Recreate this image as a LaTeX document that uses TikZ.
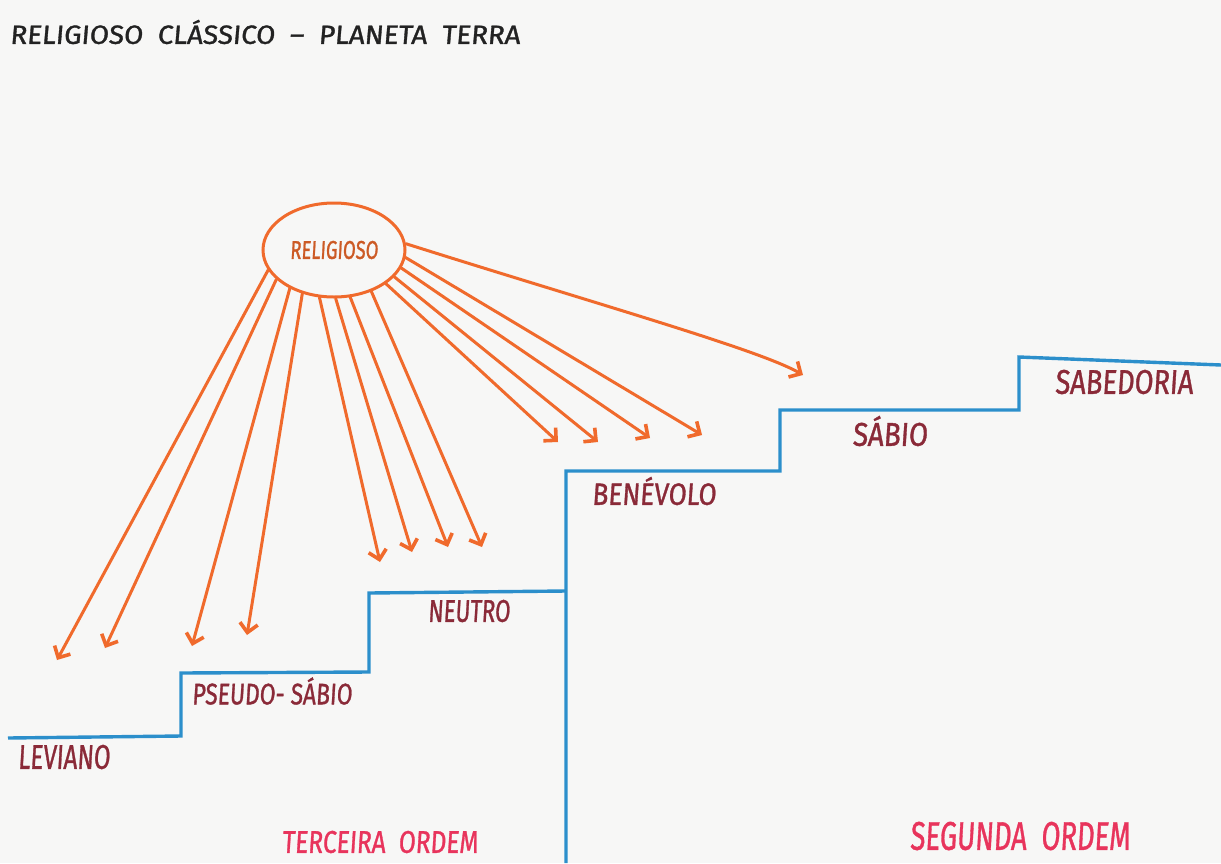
\documentclass[tikz,border=0pt]{standalone}
\usepackage{fontspec}
\usetikzlibrary{arrows.meta,shapes.geometric}
\newfontfamily\hand[FakeSlant=0.08,FakeBold=1.2]{Fira Sans}
\definecolor{paper}{HTML}{F7F7F6}
\definecolor{arrowc}{HTML}{F06A2C}
\definecolor{stairc}{HTML}{2C8FCB}
\definecolor{levelc}{HTML}{8A2A38}
\definecolor{orderc}{HTML}{E8345C}
\definecolor{titlec}{HTML}{222222}
\newcommand{\fitw}[3]{\resizebox{#1pt}{#2pt}{\hand #3}}
\tikzset{
  ray/.style={draw=arrowc, line width=3pt, line cap=round,
    -{Straight Barb[length=9pt,width=18pt,line width=3.6pt]}},
  stair/.style={draw=stairc, line width=3.4pt, line join=miter},
  lvl/.style={text=levelc, inner sep=0pt},
  ordem/.style={text=orderc, inner sep=0pt},
}
\begin{document}
\begin{tikzpicture}[x=1pt,y=-1pt]
\fill[paper] (0,0) rectangle (1221,863);
\useasboundingbox (0,0) rectangle (1221,863);

% title
\node[text=titlec, inner sep=0pt] (title) at (265,32) {\fitw{510}{24}{RELIGIOSO\ \ CLÁSSICO\ \ –\ \ PLANETA\ \ TERRA}};

% religioso ellipse
\node[ellipse, draw=arrowc, line width=3pt, minimum width=142pt, minimum height=94pt, inner sep=0pt] (rel) at (334,250) {};
\node[text=arrowc!85!black, inner sep=0pt] (reltxt) at (334,250) {\fitw{88}{18}{RELIGIOSO}};

% arrow tips
\coordinate (t1) at (57,660);
\coordinate (t2) at (105,648);
\coordinate (t3) at (192,646);
\coordinate (t4) at (247,635);
\coordinate (t5) at (380,562);
\coordinate (t6) at (412,552);
\coordinate (t7) at (448,547);
\coordinate (t8) at (482,547);
\coordinate (t9) at (558,442);
\coordinate (t10) at (598,442);
\coordinate (t11) at (650,438);
\coordinate (t12) at (702,435);
\coordinate (t13) at (803,375);

\draw[ray] (rel.197) -- (t1);
\draw[ray] (rel.207) -- (t2);
\draw[ray] (rel.221) -- (t3);
\draw[ray] (rel.234) -- (t4);
\draw[ray] (rel.253) -- (t5);
\draw[ray] (rel.272) -- (t6);
\draw[ray] (rel.289) -- (t7);
\draw[ray] (rel.312) -- (t8);
\draw[ray] (rel.327) -- (t9);
\draw[ray] (rel.336) -- (t10);
\draw[ray] (rel.345) -- (t11);
\draw[ray] (rel.354) -- (t12);
\draw[ray] (rel.5) .. controls (600,305) and (760,350) .. (t13);

% staircase
\coordinate (s0) at (8,738);
\coordinate (s1) at (181,736);
\coordinate (s2) at (181,673);
\coordinate (s3) at (369,672);
\coordinate (s4) at (369,593);
\coordinate (s5) at (566,591);
\coordinate (s6) at (566,863);
\coordinate (s7) at (566,471);
\coordinate (s8) at (780,471);
\coordinate (s9) at (780,410);
\coordinate (s10) at (1019,410);
\coordinate (s11) at (1019,357);
\coordinate (s12) at (1221,365);
\draw[stair] (s0) -- (s1) -- (s2) -- (s3) -- (s4) -- (s5);
\draw[stair] (s6) -- (s7) -- (s8) -- (s9) -- (s10) -- (s11) -- (s12);

% level labels
\node[lvl] (leviano) at (64,757) {\fitw{92}{24}{LEVIANO}};
\node[lvl] (pseudo) at (272,691) {\fitw{160}{27}{PSEUDO-\ SÁBIO}};
\node[lvl] (neutro) at (469,611) {\fitw{82}{22}{NEUTRO}};
\node[lvl] (benevolo) at (654,491) {\fitw{124}{28}{BENÉVOLO}};
\node[lvl] (sabio) at (890,431) {\fitw{75}{30}{SÁBIO}};
\node[lvl] (sabedoria) at (1124,382) {\fitw{138}{24}{SABEDORIA}};

% orders
\node[ordem] (terceira) at (380,842) {\fitw{196}{22}{TERCEIRA\ \ ORDEM}};
\node[ordem] (segunda) at (1020,836) {\fitw{220}{28}{SEGUNDA\ \ ORDEM}};
\end{tikzpicture}
\end{document}
